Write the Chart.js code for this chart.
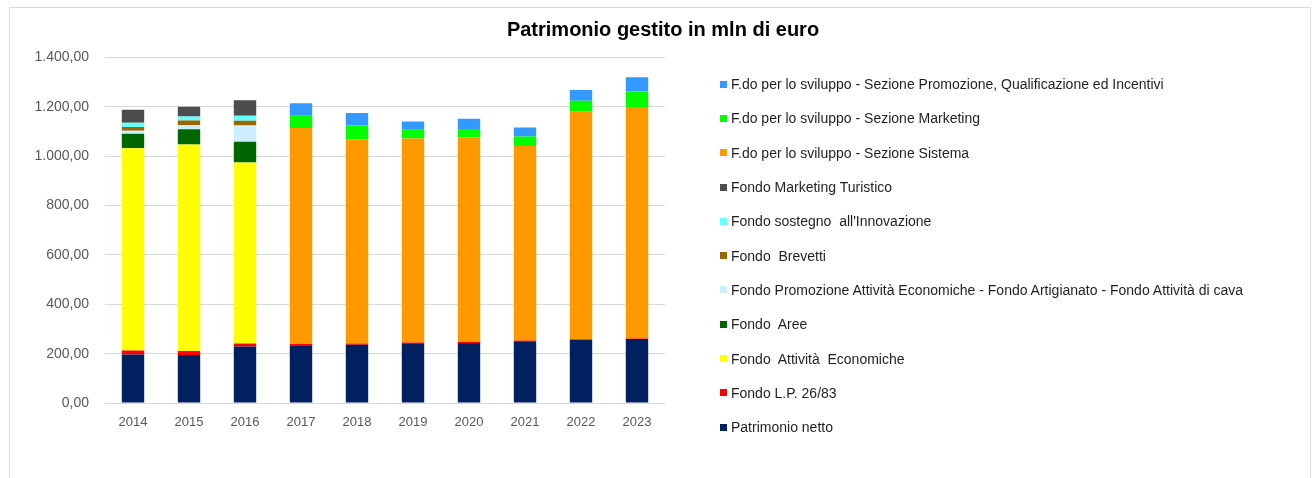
<!DOCTYPE html>
<html>
<head>
<meta charset="utf-8">
<script src="https://cdn.jsdelivr.net/npm/chart.js@4"></script>
<style>
  body { margin: 0; background: #fff; font-family: "Liberation Sans", Arial, sans-serif; }
  #frame { position: absolute; left: 9px; top: 7px; width: 1302px; height: 474px; box-sizing: border-box; border: 1px solid #d9d9d9; }
  #chart { display: block; }
  #legend { position: absolute; left: 720px; top: 67px; margin: 0; padding: 0; list-style: none; }
  #legend li { height: 34.3px; display: flex; align-items: center; font-size: 14px; color: #1f1f1f; white-space: pre; }
  #legend span.box { width: 7px; height: 7px; margin-right: 4px; flex: none; }
</style>
</head>
<body>
<div id="frame"><canvas id="chart" width="1300" height="472"></canvas></div>
<ul id="legend"></ul>
<script>
const years = ['2014', '2015', '2016', '2017', '2018', '2019', '2020', '2021', '2022', '2023'];

const patrimonioNetto    = [197, 195, 229, 231, 236, 242, 243, 250, 256, 259];
const fondoLP2683        = [16, 16, 12, 8, 5, 3, 5, 3, 2, 2];
const fondoAttivitaEcon  = [819, 836, 734, 0, 0, 0, 0, 0, 0, 0];
const fondoAree          = [59, 62, 84, 0, 0, 0, 0, 0, 0, 0];
const fondoPromozioneAE  = [12, 16, 65, 0, 0, 0, 0, 0, 0, 0];
const fondoBrevetti      = [15, 20, 20, 0, 0, 0, 0, 0, 0, 0];
const fondoInnovazione   = [18, 16, 20, 0, 0, 0, 0, 0, 0, 0];
const fondoMarketingTur  = [52, 39, 63, 0, 0, 0, 0, 0, 0, 0];
const sezioneSistema     = [0, 0, 0, 875, 827, 827, 828, 788, 922, 938];
const sezioneMarketing   = [0, 0, 0, 50, 57, 35, 34, 39, 45, 63];
const sezionePromozione  = [0, 0, 0, 51, 50, 34, 42, 36, 43, 58];

const yTicks = [0, 200, 400, 600, 800, 1000, 1200, 1400];

function formatIt(value) {
    // 1400 -> "1.400,00"
    let parts = value.toFixed(2).split('.');
    let intPart = parts[0].replace(/\B(?=(\d{3})+(?!\d))/g, '.');
    return intPart + ',' + parts[1];
}

function makeDataset(label, data, color) {
    return {
        label: label,
        data: data,
        backgroundColor: color,
        borderWidth: 0,
        barPercentage: 0.4,
        categoryPercentage: 1.0
    };
}

const datasets = [
    makeDataset('Patrimonio netto', patrimonioNetto, '#002060'),
    makeDataset('Fondo L.P. 26/83', fondoLP2683, '#ff0000'),
    makeDataset('Fondo  Attività  Economiche', fondoAttivitaEcon, '#ffff00'),
    makeDataset('Fondo  Aree', fondoAree, '#006600'),
    makeDataset('Fondo Promozione Attività Economiche - Fondo Artigianato - Fondo Attività di cava', fondoPromozioneAE, '#cceeff'),
    makeDataset('Fondo  Brevetti', fondoBrevetti, '#996600'),
    makeDataset("Fondo sostegno  all'Innovazione", fondoInnovazione, '#66ffff'),
    makeDataset('Fondo Marketing Turistico', fondoMarketingTur, '#4d4d4d'),
    makeDataset('F.do per lo sviluppo - Sezione Sistema', sezioneSistema, '#ff9900'),
    makeDataset('F.do per lo sviluppo - Sezione Marketing', sezioneMarketing, '#00ff00'),
    makeDataset('F.do per lo sviluppo - Sezione Promozione, Qualificazione ed Incentivi', sezionePromozione, '#3399ff')
];

const fontFamily = "'Liberation Sans', Arial, sans-serif";

const chart = new Chart(document.getElementById('chart').getContext('2d'), {
    type: 'bar',
    data: { labels: years, datasets: datasets },
    options: {
        responsive: false,
        animation: false,
        layout: { padding: { left: 6, right: 0, top: 0, bottom: 0 } },
        plugins: {
            legend: { display: false },
            tooltip: { enabled: false },
            title: {
                display: true,
                text: 'Patrimonio gestito in mln di euro',
                color: '#000',
                font: { family: fontFamily, size: 20, weight: 'bold' },
                padding: { top: 10, bottom: 15.5 }
            }
        },
        scales: {
            x: {
                stacked: true,
                grid: { display: false, drawTicks: false },
                border: { display: false },
                ticks: { color: '#595959', font: { family: fontFamily, size: 13 }, padding: 12 },
                afterFit: function(scale) { scale.height = 77; }
            },
            y: {
                stacked: true,
                min: 0,
                max: 1400,
                afterBuildTicks: function(scale) { scale.ticks = yTicks.map(v => ({ value: v })); },
                grid: { color: '#d9d9d9', lineWidth: 1, drawTicks: false },
                border: { display: false },
                ticks: {
                    color: '#595959',
                    font: { family: fontFamily, size: 14 },
                    padding: 16,
                    callback: function(value) { return formatIt(value); }
                },
                afterFit: function(scale) { scale.width = 89; }
            },
            // empty right-hand axis, only reserves the room where the legend sits
            legendSpace: {
                type: 'linear',
                position: 'right',
                grid: { display: false, drawTicks: false },
                border: { display: false },
                ticks: { display: false },
                afterFit: function(scale) { scale.width = 645; }
            }
        }
    }
});

// legend built from the chart's own datasets, last series on top
const legendEl = document.getElementById('legend');
chart.data.datasets.slice().reverse().forEach(function(ds) {
    let li = document.createElement('li');
    let box = document.createElement('span');
    box.className = 'box';
    box.style.background = ds.backgroundColor;
    li.appendChild(box);
    li.appendChild(document.createTextNode(ds.label));
    legendEl.appendChild(li);
});
</script>
</body>
</html>
